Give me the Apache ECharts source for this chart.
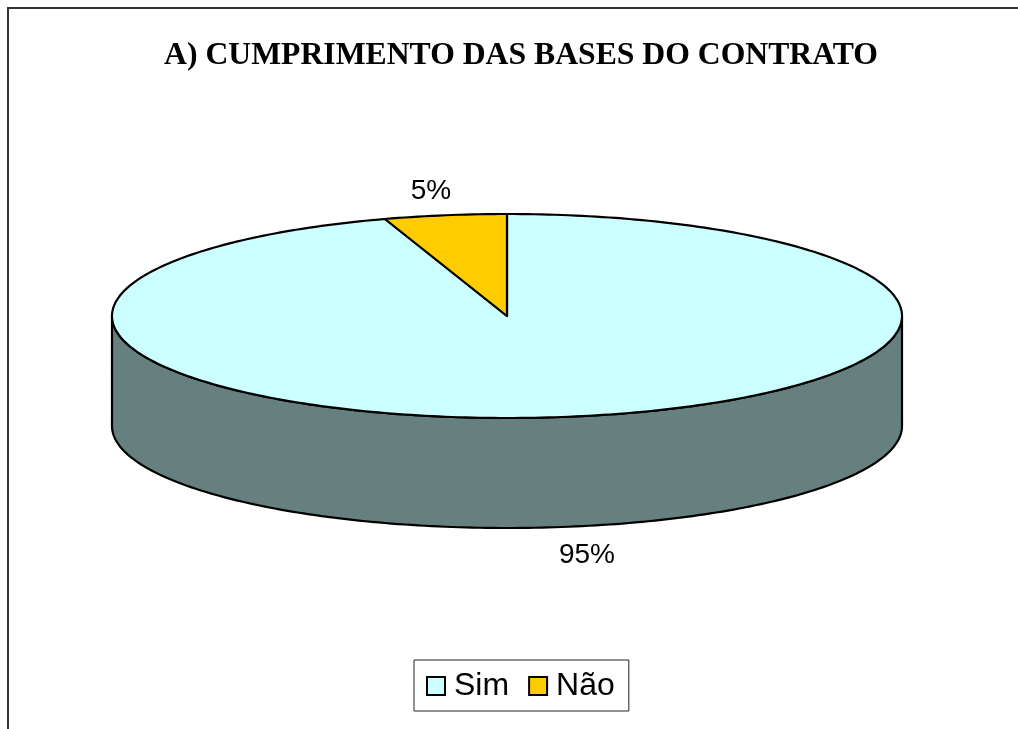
<!DOCTYPE html>
<html lang="pt">
  <head>
    <meta charset="UTF-8" />
    <script src="https://cdn.jsdelivr.net/npm/echarts@6/dist/echarts.min.js"></script>
    <title>Cumprimento das bases do contrato</title>
    <style>
      html, body { margin: 0; padding: 0; background: #fff; }
      #app { width: 1018px; height: 729px; }
    </style>
  </head>
  <body>
    <div id="app"></div>

    <script>
      const titleText = "A) CUMPRIMENTO DAS BASES DO CONTRATO";
      const categories = ["Sim", "Não"];
      const values = [95, 5];
      const colors = ["#CCFFFF", "#FFCC00"];
      const sideColors = ["#668080", "#806600"];
      const labelPos = [[587, 555], [431, 191]];

      // tilted disc: ellipse on top, wall below it
      const cx = 507, cy = 316, rx = 395, ry = 102, depth = 110;
      const total = values.reduce((a, b) => a + b, 0);

      // angle in degrees, clockwise from the top of the disc
      function rim(deg, dy) {
        const a = (deg * Math.PI) / 180;
        return [cx + rx * Math.sin(a), cy - ry * Math.cos(a) + dy];
      }

      function arc(from, to, dy) {
        const pts = [];
        for (let d = from; d < to; d += 1) pts.push(rim(d, dy));
        pts.push(rim(to, dy));
        return pts;
      }

      function sliceStart(index) {
        let sum = 0;
        for (let i = 0; i < index; i++) sum += values[i];
        return (sum / total) * 360;
      }

      function renderSlice(index, api) {
        const start = sliceStart(index);
        const end = start + (api.value(0) / total) * 360;
        const line = { stroke: "#000", lineWidth: 2.2, lineJoin: "round" };
        const children = [];

        // only the front half of the wall can be seen
        const wallFrom = Math.max(start, 90);
        const wallTo = Math.min(end, 270);
        if (wallFrom < wallTo) {
          children.push({
            type: "polygon",
            shape: { points: arc(wallFrom, wallTo, 0).concat(arc(wallFrom, wallTo, depth).reverse()) },
            style: { fill: sideColors[index], ...line },
          });
        }
        children.push({
          type: "polygon",
          shape: { points: [[cx, cy]].concat(arc(start, end, 0)) },
          style: { fill: colors[index], ...line },
        });
        children.push({
          type: "text",
          x: labelPos[index][0],
          y: labelPos[index][1],
          style: {
            text: api.value(0) + "%",
            fill: "#000",
            font: "28px 'Liberation Sans', Arial, sans-serif",
            align: "center",
            verticalAlign: "middle",
          },
        });
        return { type: "group", children };
      }

      const echart = echarts.init(document.getElementById("app"), null, { renderer: "canvas" });

      echart.setOption({
        animation: false,
        backgroundColor: "#fff",
        title: {
          text: titleText,
          left: 516,
          top: 35,
          textAlign: "center",
          textStyle: {
            fontFamily: "'Liberation Serif', 'Times New Roman', serif",
            fontSize: 31.7,
            fontWeight: "bold",
            color: "#000",
          },
        },
        legend: {
          data: categories,
          left: 414,
          top: 660,
          orient: "horizontal",
          icon: "rect",
          itemWidth: 18,
          itemHeight: 18,
          itemGap: 19,
          padding: [10, 14, 9, 12],
          borderColor: "#222",
          borderWidth: 1,
          selectedMode: false,
          itemStyle: { borderColor: "#000", borderWidth: 2 },
          textStyle: {
            fontFamily: "'Liberation Sans', Arial, sans-serif",
            fontSize: 32,
            color: "#000",
            padding: [0, 0, 0, 4],
          },
        },
        graphic: [
          {
            type: "polyline",
            silent: true,
            shape: { points: [[8, 729], [8, 8], [1018, 8]] },
            style: { fill: null, stroke: "#333", lineWidth: 2 },
          },
        ],
        series: categories.map((name, i) => ({
          name,
          type: "custom",
          coordinateSystem: "none",
          silent: true,
          itemStyle: { color: colors[i] },
          data: [values[i]],
          renderItem: (params, api) => renderSlice(i, api),
        })),
      });
    </script>
  </body>
</html>
